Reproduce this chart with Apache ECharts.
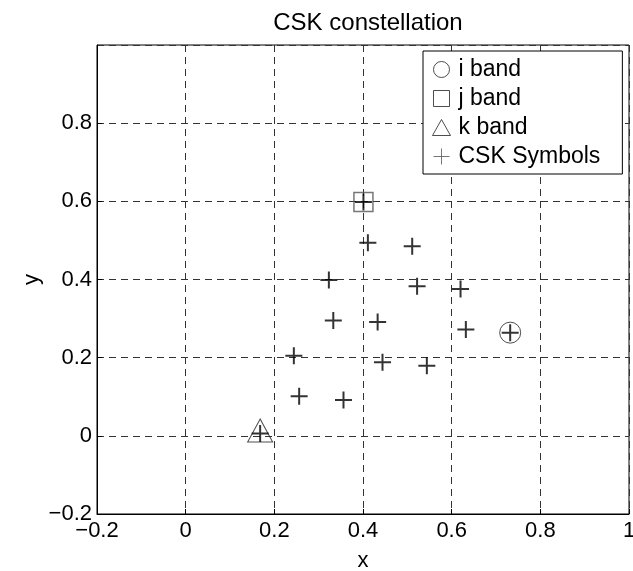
<!DOCTYPE html>
<html>
<head>
<meta charset="utf-8">
<script src="https://cdn.jsdelivr.net/npm/echarts@6/dist/echarts.min.js"></script>
<style>
html,body{margin:0;padding:0;background:#fff;}
#c{width:633px;height:571px;}
</style>
</head>
<body>
<div id="c"></div>
<script>
// Band centre points
const iBand = [[0.732, 0.264]];
const jBand = [[0.401, 0.598]];
const kBand = [[0.168, 0.006]];
// 16-CSK constellation symbols
const cskX = [0.401, 0.411, 0.511, 0.323, 0.522, 0.620, 0.333, 0.433, 0.632, 0.732, 0.244, 0.444, 0.544, 0.256, 0.356, 0.168];
const cskY = [0.598, 0.494, 0.485, 0.399, 0.383, 0.376, 0.295, 0.291, 0.272, 0.264, 0.205, 0.188, 0.179, 0.101, 0.092, 0.006];
const axisMin = -0.2, axisMax = 1, axisStep = 0.2;
const seriesNames = ['i band', 'j band', 'k band', 'CSK Symbols'];

const cskData = cskX.map((x, k) => [x, cskY[k]]);
const FONT = "'Liberation Sans', Arial, sans-serif";
const PLUS = 'path://M5,0 L5,10 M0,5 L10,5';
const SQUARE = 'path://M0,0 L10,0 L10,10 L0,10 Z';
const fmt = v => {
  const s = (Math.round(v * 10) / 10).toString();
  return s.replace('-', '\u2212');
};
const none = 'rgba(0,0,0,0)';

const chart = echarts.init(document.getElementById('c'), null, {renderer: 'canvas'});
chart.setOption({
  animation: false,
  backgroundColor: '#fff',
  textStyle: {fontFamily: FONT, color: '#000'},
  title: {
    text: 'CSK constellation',
    left: 363, top: 6, textAlign: 'center',
    textStyle: {fontFamily: FONT, fontSize: 24, fontWeight: 'normal', color: '#000'}
  },
  grid: {left: 97, right: 4, top: 45, bottom: 57, outerBoundsMode: 'none', containLabel: false,
         show: true, borderColor: '#000', borderWidth: 1, backgroundColor: 'transparent'},
  xAxis: {
    type: 'value', min: axisMin, max: axisMax, interval: axisStep,
    name: 'x', nameLocation: 'middle', nameGap: 36, nameMoveOverlap: false,
    nameTextStyle: {fontFamily: FONT, fontSize: 22, color: '#000'},
    axisLine: {show: true, onZero: false, lineStyle: {color: '#000', width: 1}},
    axisTick: {show: true, inside: true, length: 5, lineStyle: {color: '#000'}},
    axisLabel: {fontFamily: FONT, fontSize: 22, color: '#000', margin: 6, formatter: fmt},
    splitLine: {show: true, lineStyle: {color: '#333', width: 1, type: [7, 5]}}
  },
  yAxis: {
    type: 'value', min: axisMin, max: axisMax, interval: axisStep,
    name: 'y', nameLocation: 'middle', nameGap: 54, nameRotate: 90, nameMoveOverlap: false,
    nameTextStyle: {fontFamily: FONT, fontSize: 22, color: '#000'},
    axisLine: {show: true, onZero: false, lineStyle: {color: '#000', width: 1}},
    axisTick: {show: true, inside: true, length: 5, lineStyle: {color: '#000'}},
    axisLabel: {fontFamily: FONT, fontSize: 22, color: '#000', margin: 5, formatter: fmt, showMaxLabel: false},
    splitLine: {show: true, lineStyle: {color: '#333', width: 1, type: [7, 5]}}
  },
  legend: {
    orient: 'vertical', left: 423, top: 51,
    backgroundColor: '#fff', borderColor: '#000', borderWidth: 1,
    padding: [7, 22, 6, 9],
    itemGap: 6, itemWidth: 18, itemHeight: 16,
    symbolKeepAspect: true,
    textStyle: {fontFamily: FONT, fontSize: 23, color: '#000', padding: [0, 0, 0, 3]},
    selectedMode: false,
    data: [
      {name: seriesNames[0], icon: 'circle', itemStyle: {color: none, borderColor: '#222', borderWidth: 1}},
      {name: seriesNames[1], icon: SQUARE, itemStyle: {color: none, borderColor: '#222', borderWidth: 1}},
      {name: seriesNames[2], icon: 'triangle', itemStyle: {color: none, borderColor: '#222', borderWidth: 1}},
      {name: seriesNames[3], icon: PLUS, itemStyle: {color: none, borderColor: '#555', borderWidth: 1}}
    ]
  },
  series: [
    {name: seriesNames[0], type: 'scatter', data: iBand, symbol: 'circle', symbolSize: 21,
     itemStyle: {color: none, borderColor: '#222', borderWidth: 1}, emphasis: {disabled: true}, z: 2},
    {name: seriesNames[1], type: 'scatter', data: jBand, symbol: 'rect', symbolSize: 19,
     itemStyle: {color: none, borderColor: '#555', borderWidth: 1.5}, emphasis: {disabled: true}, z: 2},
    {name: seriesNames[2], type: 'scatter', data: kBand, symbol: 'triangle', symbolSize: [25, 23], symbolOffset: [0, -3],
     itemStyle: {color: none, borderColor: '#222', borderWidth: 1}, emphasis: {disabled: true}, z: 2},
    {name: seriesNames[3], type: 'scatter', data: cskData, symbol: PLUS, symbolSize: 17,
     itemStyle: {color: none, borderColor: '#000', borderWidth: 2}, emphasis: {disabled: true}, z: 3}
  ]
});
</script>
</body>
</html>
